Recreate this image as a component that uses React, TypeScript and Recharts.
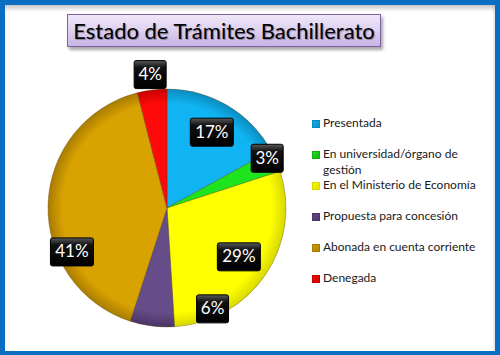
import React from 'react';
import { PieChart, Pie, Cell, Legend } from 'recharts';

const categories = [
  'Presentada',
  'En universidad/órgano de gestión',
  'En el Ministerio de Economía',
  'Propuesta para concesión',
  'Abonada en cuenta corriente',
  'Denegada',
];
const values = [17, 3, 29, 6, 41, 4];
const percentLabels = ['17%', '3%', '29%', '6%', '41%', '4%'];
const colors = ['#10b4f2', '#1ee41e', '#ffff00', '#664c88', '#d8a200', '#ff0a0a'];
const edgeColors = ['#0a8cc0', '#12b012', '#d8d800', '#4a3566', '#a87c00', '#c80000'];

// label placement (radius fraction of outerRadius, angle shift in degrees)
const labelRadius = [0.74, 0.94, 0.73, 0.93, 0.88, 1.13];
const labelShift = [0, 3, 0, 31.5, 26.6, 0];

const data = categories.map((name, i) => ({ name, value: values[i], label: percentLabels[i] }));

const RAD = Math.PI / 180;

const renderLabel = (props: any) => {
  const { cx, cy, midAngle, outerRadius, index } = props;
  const r = outerRadius * labelRadius[index];
  const a = (midAngle + labelShift[index]) * RAD;
  const x = cx + r * Math.cos(a);
  const y = cy - r * Math.sin(a);
  const txt = percentLabels[index];
  const w = 11 * txt.length + 10;
  const h = 28;
  return (
    <g key={`lbl-${index}`}>
      <rect x={x - w / 2} y={y - h / 2} width={w} height={h} rx={2} fill="url(#lblGrad)" stroke="#000" strokeWidth={1} />
      <text x={x} y={y + 1} fill="#ffffff" fontSize={17} fontFamily="Lato, 'Noto Sans', sans-serif" textAnchor="middle" dominantBaseline="middle">
        {txt}
      </text>
    </g>
  );
};

const renderLegend = () => (
  <div style={{ position: 'relative', width: 180 }}>
    {categories.map((c, i) => (
      <div key={c} style={{ position: 'absolute', left: 0, top: i * 31, width: 180, display: 'flex', alignItems: 'flex-start' }}>
        <div
          style={{
            width: 8,
            height: 8,
            marginTop: 4,
            marginRight: 3,
            flex: '0 0 8px',
            background: `linear-gradient(135deg, ${colors[i]} 0%, ${edgeColors[i]} 100%)`,
            boxShadow: `inset 0 0 0 1px ${edgeColors[i]}`,
          }}
        />
        <div style={{ fontSize: 12, lineHeight: '16px', color: '#1a1a1a', fontFamily: "Lato, 'Noto Sans', sans-serif", width: 160, marginTop: -1 }}>
          {c}
        </div>
      </div>
    ))}
  </div>
);

export default function App() {
  return (
    <div style={{ position: 'absolute', left: 0, top: 0, width: 500, height: 355, background: '#ffffff' }}>
      <PieChart width={500} height={355} margin={{ top: 0, right: 0, bottom: 0, left: 0 }} style={{ position: 'absolute', left: 0, top: 0 }}>
        <defs>
          <linearGradient id="lblGrad" x1="0" y1="0" x2="0" y2="1">
            <stop offset="0" stopColor="#5a5a5a" />
            <stop offset="0.25" stopColor="#111" />
            <stop offset="1" stopColor="#000" />
          </linearGradient>
          {colors.map((c, i) => (
            <radialGradient key={i} id={`sg${i}`} cx={167} cy={208} r={119} gradientUnits="userSpaceOnUse">
              <stop offset="0" stopColor={c} />
              <stop offset="0.88" stopColor={c} />
              <stop offset="1" stopColor={edgeColors[i]} />
            </radialGradient>
          ))}
        </defs>
        <Pie
          data={data}
          dataKey="value"
          nameKey="name"
          cx={167}
          cy={208}
          outerRadius={119}
          startAngle={90}
          endAngle={-270}
          stroke="rgba(80,60,0,0.35)"
          strokeWidth={1}
          label={renderLabel}
          labelLine={false}
          isAnimationActive={false}
        >
          {data.map((d, i) => (
            <Cell key={d.name} fill={`url(#sg${i})`} />
          ))}
        </Pie>
        <Legend
          layout="vertical"
          align="right"
          verticalAlign="top"
          content={renderLegend}
          wrapperStyle={{ position: 'absolute', left: 312, top: 116, width: 180 }}
        />
      </PieChart>
      <div
        style={{
          position: 'absolute',
          left: 67,
          top: 14,
          width: 314,
          height: 33,
          boxSizing: 'border-box',
          border: '1.5px solid #7d62a6',
          background: 'linear-gradient(180deg, #efe8f8 0%, #ddd0f0 50%, #c8b4e6 100%)',
          boxShadow: '2px 3px 3px rgba(0,0,0,0.35)',
          display: 'flex',
          alignItems: 'center',
          justifyContent: 'center',
          fontFamily: "Lato, 'Noto Sans', sans-serif",
          fontSize: 22,
          color: '#000',
          textShadow: '1px 1px 1px rgba(0,0,0,0.35)',
          whiteSpace: 'nowrap',
        }}
      >
        Estado de Trámites Bachillerato
      </div>
      <div
        style={{
          position: 'absolute',
          left: 0,
          top: 0,
          width: 500,
          height: 355,
          boxSizing: 'border-box',
          borderStyle: 'solid',
          borderColor: '#0a6fc2',
          borderWidth: '5px 5px 4px 5px',
          boxShadow: 'inset 0 6px 5px -3px rgba(0,0,0,0.25), inset -3px 0 3px -2px rgba(0,0,0,0.12)',
          pointerEvents: 'none',
        }}
      />
    </div>
  );
}
